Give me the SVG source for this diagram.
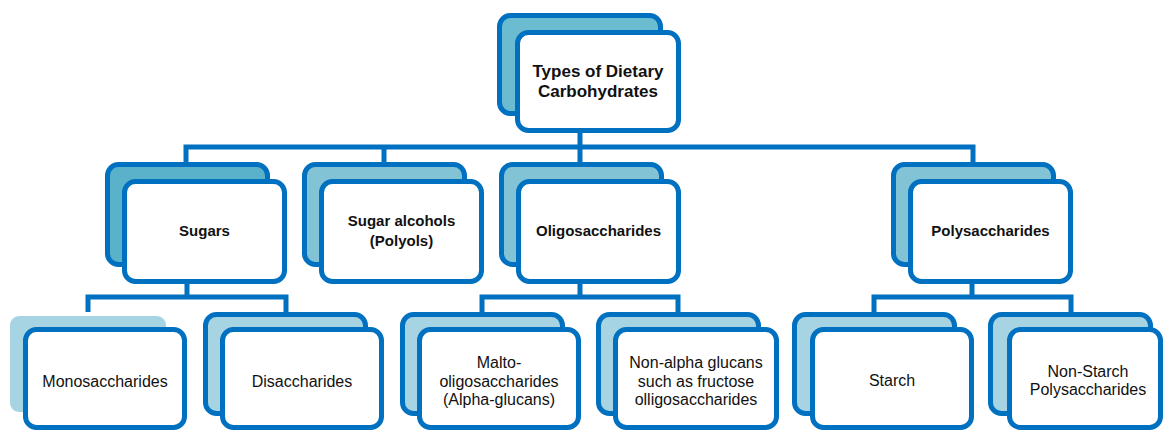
<svg xmlns="http://www.w3.org/2000/svg" width="1164" height="432" viewBox="0 0 1164 432">
<style>
.b{stroke:#0070C0;stroke-width:5;fill:#ffffff}
.root{fill:#6BBCD0}
.dk{fill:#5AB1CA}
.md{fill:#82C4D6}
.lt{fill:#A7D4E2}
.c{stroke:#0070C0;stroke-width:5;fill:none;stroke-linejoin:miter}
text{font-family:"Liberation Sans",Arial,sans-serif;fill:#111;text-anchor:middle}
.t1{font-size:17px;font-weight:bold}
.t2{font-size:15px;font-weight:bold}
.t3{font-size:16px}
</style>
<rect width="1164" height="432" fill="#ffffff"/>
<g id="connectors">
<path class="c" d="M580 132V147M186 162V147H973V162M384 147V162M580 147V162"/>
<path class="c" d="M187 283V297M88 312V297H286V312"/>
<path class="c" d="M580 283V297M482 312V297H678V312"/>
<path class="c" d="M972 283V297M874 312V297H1071V312"/>
</g>
<g id="root">
<rect class="b root" x="499.5" y="15.5" width="161" height="98" rx="11"/>
<rect class="b" x="517.5" y="32.5" width="161" height="98" rx="11"/>
<text class="t1" x="598" y="77">Types of Dietary</text>
<text class="t1" x="598" y="97">Carbohydrates</text>
</g>
<g id="sugars">
<rect class="b dk" x="107.5" y="164.5" width="160" height="100" rx="11"/>
<rect class="b" x="124.5" y="181.5" width="160" height="100" rx="11"/>
<text class="t2" x="204.5" y="236">Sugars</text>
</g>
<g id="sugar-alcohols">
<rect class="b md" x="304.5" y="164.5" width="160" height="100" rx="11"/>
<rect class="b" x="321.5" y="181.5" width="160" height="100" rx="11"/>
<text class="t2" x="401.5" y="226">Sugar alcohols</text>
<text class="t2" x="401.5" y="246">(Polyols)</text>
</g>
<g id="oligosaccharides">
<rect class="b md" x="501.5" y="164.5" width="160" height="100" rx="11"/>
<rect class="b" x="518.5" y="181.5" width="160" height="100" rx="11"/>
<text class="t2" x="598.5" y="236">Oligosaccharides</text>
</g>
<g id="polysaccharides">
<rect class="b md" x="893.5" y="164.5" width="160" height="100" rx="11"/>
<rect class="b" x="910.5" y="181.5" width="160" height="100" rx="11"/>
<text class="t2" x="990.5" y="236">Polysaccharides</text>
</g>
<g id="monosaccharides">
<rect class="lt" x="10" y="316" width="156" height="96" rx="9"/>
<rect class="b" x="25.5" y="329.5" width="159" height="98" rx="11"/>
<text class="t3" x="105" y="387">Monosaccharides</text>
</g>
<g id="disaccharides">
<rect class="b lt" x="205.5" y="314.5" width="160" height="99" rx="11"/>
<rect class="b" x="222.5" y="329.5" width="159" height="98" rx="11"/>
<text class="t3" x="302" y="387">Disaccharides</text>
</g>
<g id="malto-oligosaccharides">
<rect class="b lt" x="402.5" y="314.5" width="160" height="99" rx="11"/>
<rect class="b" x="419.5" y="329.5" width="159" height="98" rx="11"/>
<text class="t3" x="499" y="368">Malto-</text>
<text class="t3" x="499" y="387">oligosaccharides</text>
<text class="t3" x="499" y="405">(Alpha-glucans)</text>
</g>
<g id="non-alpha-glucans">
<rect class="b lt" x="598.5" y="314.5" width="160" height="99" rx="11"/>
<rect class="b" x="615.5" y="329.5" width="161" height="98" rx="11"/>
<text class="t3" x="696" y="368">Non-alpha glucans</text>
<text class="t3" x="696" y="387">such as fructose</text>
<text class="t3" x="696" y="405">olligosaccharides</text>
</g>
<g id="starch">
<rect class="b lt" x="794.5" y="314.5" width="160" height="99" rx="11"/>
<rect class="b" x="812.5" y="329.5" width="159" height="98" rx="11"/>
<text class="t3" x="892" y="386">Starch</text>
</g>
<g id="non-starch-polysaccharides">
<rect class="b lt" x="990.5" y="314.5" width="160" height="99" rx="11"/>
<rect class="b" x="1009.5" y="329.5" width="151" height="98" rx="11"/>
<text class="t3" x="1088" y="377">Non-Starch</text>
<text class="t3" x="1088" y="395">Polysaccharides</text>
</g>
</svg>
